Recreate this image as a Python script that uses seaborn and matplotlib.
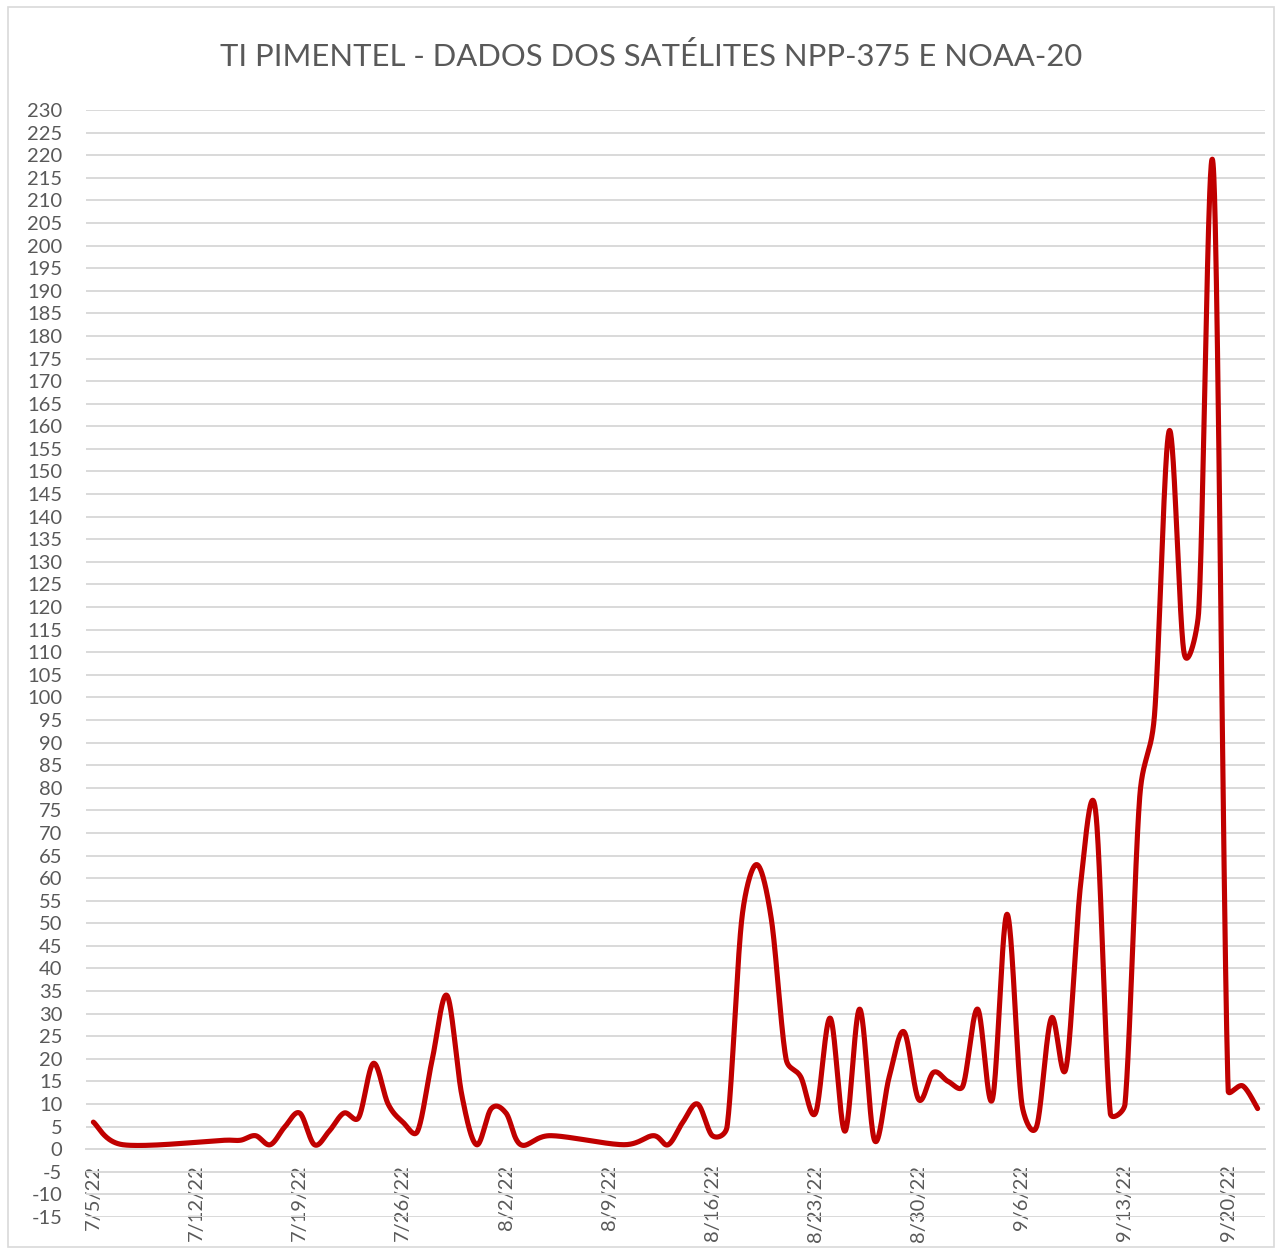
import datetime as dt

import matplotlib.pyplot as plt
from matplotlib.patches import Rectangle
import numpy as np
import seaborn as sns

# focos por dia (dias sem foco ficam fora da série)
dates = [
    "2022-07-05", "2022-07-07", "2022-07-14", "2022-07-15", "2022-07-16", "2022-07-17",
    "2022-07-18", "2022-07-19", "2022-07-20", "2022-07-21", "2022-07-22", "2022-07-23",
    "2022-07-24", "2022-07-25", "2022-07-26", "2022-07-27", "2022-07-28", "2022-07-29",
    "2022-07-30", "2022-07-31", "2022-08-01", "2022-08-02", "2022-08-03", "2022-08-05",
    "2022-08-10", "2022-08-12", "2022-08-13", "2022-08-14", "2022-08-15", "2022-08-16",
    "2022-08-17", "2022-08-18", "2022-08-19", "2022-08-20", "2022-08-21", "2022-08-22",
    "2022-08-23", "2022-08-24", "2022-08-25", "2022-08-26", "2022-08-27", "2022-08-28",
    "2022-08-29", "2022-08-30", "2022-08-31", "2022-09-01", "2022-09-02", "2022-09-03",
    "2022-09-04", "2022-09-05", "2022-09-06", "2022-09-07", "2022-09-08", "2022-09-09",
    "2022-09-10", "2022-09-11", "2022-09-12", "2022-09-13", "2022-09-14", "2022-09-15",
    "2022-09-16", "2022-09-17", "2022-09-18", "2022-09-19", "2022-09-20", "2022-09-21",
    "2022-09-22",
]
focos = [
    6, 1, 2, 2, 3, 1,
    5, 8, 1, 4, 8, 7,
    19, 10, 6, 4, 20, 34,
    12, 1, 9, 8, 1, 3,
    1, 3, 1, 6, 10, 3,
    5, 51, 63, 51, 20, 16,
    8, 29, 4, 31, 2, 16,
    26, 11, 17, 15, 14, 31,
    11, 52, 10, 5, 29, 18,
    59, 75, 8, 10, 78, 96,
    159, 110, 119, 217, 13, 14,
    9,
]

start = dt.date(2022, 7, 5)
end = dt.date(2022, 9, 23)
tick_dates = [start + dt.timedelta(days=7 * k) for k in range(12)]
y_ticks = list(range(-15, 231, 5))

title = "TI PIMENTEL - DADOS DOS SATÉLITES NPP-375 E NOAA-20"
red = "#c00000"
grid = "#d9d9d9"
txt = "#595959"


def smooth(xs, ys, sx_px, sy_px, steps=40):
    # linha suavizada no estilo do Excel: Bezier com tangente limitada
    pts = np.column_stack([np.asarray(xs) * sx_px, np.asarray(ys) * sy_px]).astype(float)
    n = len(pts)
    out = []
    for i in range(n - 1):
        p0 = pts[i - 1] if i > 0 else pts[i]
        p1, p2 = pts[i], pts[i + 1]
        p3 = pts[i + 2] if i + 2 < n else pts[i + 1]
        seg = np.linalg.norm(p2 - p1)
        d02 = np.linalg.norm(p2 - p0)
        d13 = np.linalg.norm(p3 - p1)
        f0 = 1 / 6 if d02 / 6 < seg / 2 else seg / (2 * d02)
        f1 = 1 / 6 if d13 / 6 < seg / 2 else seg / (2 * d13)
        c1 = p1 + (p2 - p0) * f0
        c2 = p2 - (p3 - p1) * f1
        t = np.linspace(0, 1, steps, endpoint=(i == n - 2))[:, None]
        b = (1 - t) ** 3 * p1 + 3 * (1 - t) ** 2 * t * c1 + 3 * (1 - t) * t ** 2 * c2 + t ** 3 * p2
        out.append(b)
    out = np.vstack(out)
    return out[:, 0] / sx_px, out[:, 1] / sy_px


sns.set_style("white")
plt.rcParams["font.family"] = ["Lato", "DejaVu Sans"]

fig = plt.figure(figsize=(12.82, 12.53), dpi=100)
ax = fig.add_axes([86 / 1282, 1 - 1217 / 1253, (1265 - 86) / 1282, (1217 - 110) / 1253])

n_days = (end - start).days
ax.set_xlim(0, n_days)
ax.set_ylim(-15, 230)

# dias a partir de 5/7, ponto no meio do dia
day_x = [(dt.date.fromisoformat(d) - start).days + 0.5 for d in dates]
px_day = (1265 - 86) / n_days
px_unit = (1217 - 110) / 245
sx, sy = smooth(day_x, focos, px_day, px_unit)
sns.lineplot(x=sx, y=sy, sort=False, estimator=None, color=red, linewidth=3.7, ax=ax)
ax.lines[-1].set_solid_capstyle("round")
ax.lines[-1].set_solid_joinstyle("round")

ax.set_yticks(y_ticks)
ax.set_yticklabels([str(v) for v in y_ticks])
ax.yaxis.grid(True, color=grid, linewidth=1.4)
ax.set_axisbelow(True)
ax.tick_params(axis="y", length=0, pad=17, labelsize=14.5, labelcolor=txt)

tick_pos = [(d - start).days for d in tick_dates]
ax.set_xticks(tick_pos)
ax.set_xticklabels([])
ax.set_xticks([p + 0.5 for p in tick_pos], minor=True)
ax.set_xticklabels([f"{d.month}/{d.day}/{d.strftime('%y')}" for d in tick_dates], minor=True)
ax.tick_params(axis="x", which="major", direction="out", length=6, width=1.4, color=grid)
ax.tick_params(axis="x", which="minor", length=0, pad=11, labelsize=14.5,
               labelcolor=txt, labelrotation=90)
for lab in ax.get_xticklabels(minor=True):
    lab.set_va("top")
    lab.set_ha("center")

for s in ["top", "right", "left"]:
    ax.spines[s].set_visible(False)
ax.spines["bottom"].set_position(("data", 0))
ax.spines["bottom"].set_color(grid)
ax.spines["bottom"].set_linewidth(1.4)
ax.set_xlabel("")
ax.set_ylabel("")

fig.text(651 / 1282, 1 - 57 / 1253, title, ha="center", va="center",
         fontsize=22.3, color=txt)

fig.patches.append(Rectangle((8 / 1282, 6 / 1253), 1266 / 1282, 1240 / 1253,
                             transform=fig.transFigure, fill=False,
                             edgecolor=grid, linewidth=1.2))

fig.savefig("out.png", dpi=100)
